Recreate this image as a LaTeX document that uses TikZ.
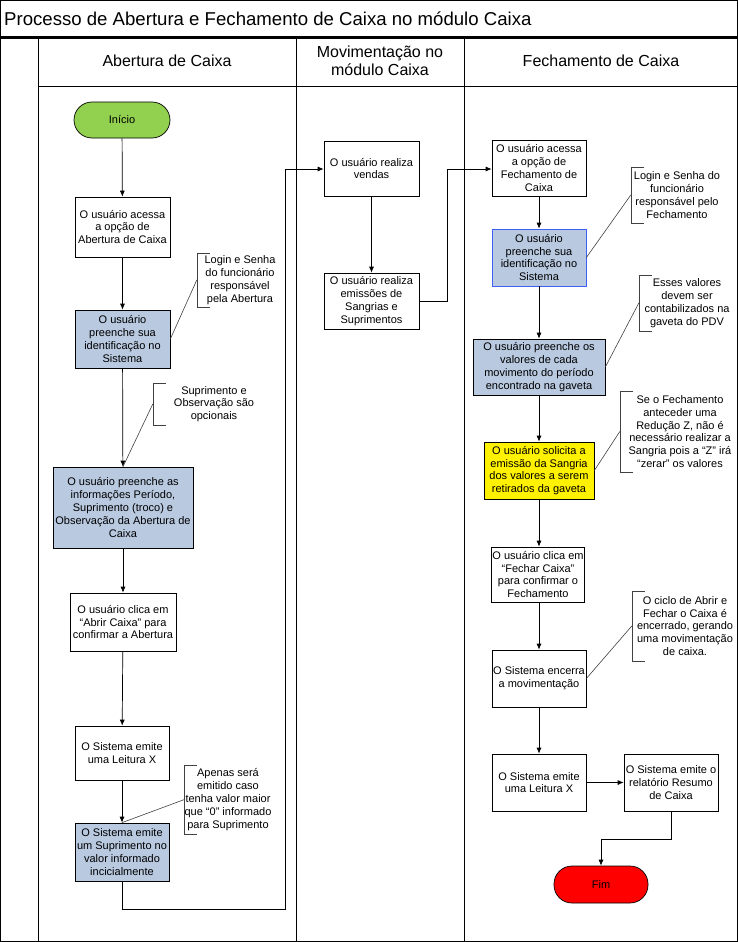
\documentclass[tikz,border=0pt]{standalone}
\usepackage{fontspec}
\setmainfont{Liberation Sans}
\usetikzlibrary{arrows.meta}
\definecolor{boxblue}{HTML}{B8C9E0}
\definecolor{startgreen}{HTML}{92D050}
\definecolor{bordblue}{HTML}{3F5FF5}
\definecolor{annline}{HTML}{404040}
\tikzset{
  proc/.style={draw=black, line width=0.7pt, fill=white, rectangle, inner sep=1pt, align=center,
    font=\fontsize{11}{12.8}\selectfont},
  bluebox/.style={proc, fill=boxblue},
  term/.style={draw=black, line width=0.7pt, rectangle, rounded corners=18pt, align=center,
    font=\fontsize{11}{13}\selectfont, minimum width=95pt, minimum height=37pt},
  annot/.style={rectangle, inner sep=0pt, align=center, font=\fontsize{11}{12.8}\selectfont},
  brk/.style={draw=annline, line width=0.6pt},
  flow/.style={draw=black, line width=0.7pt, -{Latex[length=6pt,width=5pt]}},
  lane/.style={draw=black, line width=0.8pt},
  head/.style={font=\fontsize{16}{18.5}\selectfont, align=center},
}
\newcommand{\bracketof}[1]{\draw[brk] ([xshift=13pt]#1.north west) -- (#1.north west) -- (#1.south west) -- ([xshift=13pt]#1.south west);}
\begin{document}
\begin{tikzpicture}[x=1pt,y=-1pt]
\useasboundingbox (0,0) rectangle (738,942);
% frame
\draw[lane] (0.5,0.5) rectangle (737.5,941.5);
\draw[black, line width=2.2pt] (0,37.5) -- (738,37.5);
\draw[lane] (38,37.5) -- (38,941.5);
\draw[lane] (296,37.5) -- (296,941.5);
\draw[lane] (464,37.5) -- (464,941.5);
\draw[lane] (38,86) -- (738,86);
\node[anchor=west, inner sep=0pt, font=\fontsize{18.6}{21}\selectfont] (title) at (4,19) {Processo de Abertura e Fechamento de Caixa no módulo Caixa};
\node[head] (h1) at (167,61) {Abertura de Caixa};
\node[head] (h2) at (380,61) {Movimentação no\\módulo Caixa};
\node[head] (h3) at (601,61) {Fechamento de Caixa};

% left lane
\node[term, fill=startgreen, minimum width=96pt, minimum height=36pt] (ini) at (122,120) {Início};
\node[proc, minimum width=95pt, minimum height=60pt] (b1) at (122.5,227) {O usuário acessa\\a opção de\\Abertura de Caixa};
\node[bluebox, minimum width=95pt, minimum height=58pt] (b2) at (122.5,339) {O usuário\\preenche sua\\identificação no\\Sistema};
\node[bluebox, minimum width=140pt, minimum height=81pt] (b3) at (123,507.5) {O usuário preenche as\\informações Período,\\Suprimento (troco) e\\Observação da Abertura de\\Caixa};
\node[proc, minimum width=106pt, minimum height=58pt] (b4) at (123,622) {O usuário clica em\\“Abrir Caixa” para\\confirmar a Abertura};
\node[proc, minimum width=94pt, minimum height=54pt] (b5) at (122,753) {O Sistema emite\\uma Leitura X};
\node[bluebox, minimum width=94pt, minimum height=58pt] (b6) at (122,852) {O Sistema emite\\um Suprimento no\\valor informado\\incicialmente};

\node[annot, minimum width=86pt, minimum height=54pt] (n1) at (240,280) {Login e Senha\\do funcionário\\responsável\\pela Abertura};
\node[annot, minimum width=122pt, minimum height=42pt] (n2) at (214,404) {Suprimento e\\Observação são\\opcionais};
\node[annot, minimum width=84pt, minimum height=69pt] (n3) at (228,799.5) {Apenas será\\emitido caso\\tenha valor maior\\que “0” informado\\para Suprimento};
\bracketof{n1}
\bracketof{n2}
\bracketof{n3}
\draw[brk] (n1.west) -- (b2.east);
\draw[brk] (n2.west) -- (b3.north);
\draw[brk] (n3.west) -- (b6.north);

\draw[flow] (ini) -- (b1);
\draw[flow] (b1) -- (b2);
\draw[flow] (b2) -- (b3);
\draw[flow] (b3) -- (b4);
\draw[flow] (b4) -- (b5);
\draw[flow] (b5) -- (b6);

% middle lane
\node[proc, minimum width=95pt, minimum height=55pt] (m1) at (371.5,168.5) {O usuário realiza\\vendas};
\node[proc, minimum width=95pt, minimum height=56pt] (m2) at (371.5,301) {O usuário realiza\\emissões de\\Sangrias e\\Suprimentos};
\coordinate (c1) at (122,909);
\coordinate (c2) at (285.5,909);
\coordinate (c3) at (285.5,169);
\draw[flow] (b6.south) -- (c1) -- (c2) -- (c3) -- (m1.west |- c3);
\draw[flow] (m1) -- (m2);

% right lane
\node[proc, minimum width=94pt, minimum height=56pt] (r1) at (539,168) {O usuário acessa\\a opção de\\Fechamento de\\Caixa};
\coordinate (c4) at (447,301);
\coordinate (c5) at (447,169);
\draw[flow] (m2.east |- c4) -- (c4) -- (c5) -- (r1.west |- c5);
\node[bluebox, draw=bordblue, minimum width=94pt, minimum height=57pt] (r2) at (539,257.5) {O usuário\\preenche sua\\identificação no\\Sistema};
\node[bluebox, minimum width=132pt, minimum height=56pt] (r3) at (539,367) {O usuário preenche os\\valores de cada\\movimento do período\\encontrado na gaveta};
\node[proc, fill=yellow, minimum width=110pt, minimum height=57pt] (r4) at (539,470.5) {O usuário solicita a\\emissão da Sangria\\dos valores a serem\\retirados da gaveta};
\node[proc, minimum width=93pt, minimum height=55pt] (r5) at (538,574.5) {O usuário clica em\\“Fechar Caixa”\\para confirmar o\\Fechamento};
\node[proc, minimum width=94pt, minimum height=57pt] (r6) at (539,678.5) {O Sistema encerra\\a movimentação};
\node[proc, minimum width=94pt, minimum height=57pt] (r7) at (539,782.5) {O Sistema emite\\uma Leitura X};
\node[proc, minimum width=94pt, minimum height=57pt] (r8) at (671,782.5) {O Sistema emite o\\relatório Resumo\\de Caixa};
\node[term, fill=red, minimum width=94pt, minimum height=37pt] (fim) at (601,884.5) {Fim};

\draw[flow] (r1.south -| r2.north) -- (r2.north);
\draw[flow] (r2) -- (r3);
\draw[flow] (r3) -- (r4);
\draw[flow] (r4.south) -- (r4.south |- r5.north);
\draw[flow] (r5.south -| r6.north) -- (r6.north);
\draw[flow] (r6) -- (r7);
\draw[flow] (r7) -- (r8);
\coordinate (c6) at (671,839);
\coordinate (c7) at (601,839);
\draw[flow] (r8.south) -- (c6) -- (c7) -- (fim.north);

\node[annot, minimum width=92pt, minimum height=56pt] (na) at (677,195) {Login e Senha do\\funcionário\\responsável pelo\\Fechamento};
\node[annot, minimum width=96pt, minimum height=56pt] (nb) at (687,303) {Esses valores\\devem ser\\contabilizados na\\gaveta do PDV};
\node[annot, minimum width=120pt, minimum height=81pt] (nc) at (680,431.5) {Se o Fechamento\\anteceder uma\\Redução Z, não é\\necessário realizar a\\Sangria pois a “Z” irá\\“zerar” os valores};
\node[annot, minimum width=106pt, minimum height=70pt] (nd) at (685,626) {O ciclo de Abrir e\\Fechar o Caixa é\\encerrado, gerando\\uma movimentação\\de caixa.};
\bracketof{na}
\bracketof{nb}
\bracketof{nc}
\bracketof{nd}
\draw[brk] (na.west) -- (r2.east);
\draw[brk] (nb.west) -- (r3.east);
\draw[brk] (nc.west) -- (r4.east);
\draw[brk] (nd.west) -- (r6.east);
\end{tikzpicture}
\end{document}
